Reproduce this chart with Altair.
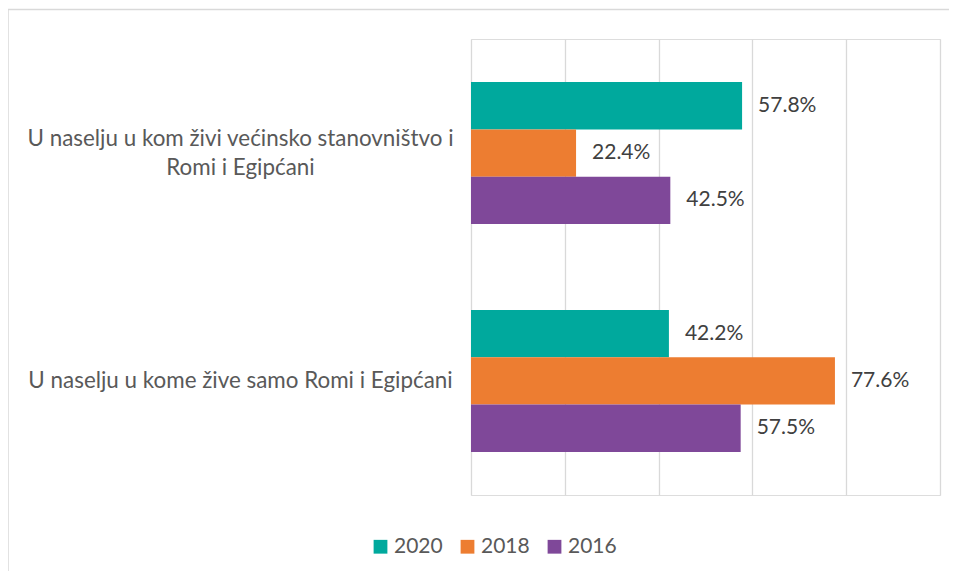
import altair as alt
import pandas as pd

categories = [
    "U naselju u kom živi većinsko stanovništvo i|Romi i Egipćani",
    "U naselju u kome žive samo Romi i Egipćani",
]
years = ["2020", "2018", "2016"]
v2020 = [57.8, 42.2]
v2018 = [22.4, 77.6]
v2016 = [42.5, 57.5]
colors = ["#00A99D", "#ED7D31", "#7F4899"]

rows = []
for i, c in enumerate(categories):
    for y, vals in zip(years, [v2020, v2018, v2016]):
        rows.append({"category": c, "year": y, "value": vals[i],
                     "label": f"{vals[i]:.1f}%"})
df = pd.DataFrame(rows)

FONT = "Lato"

base = alt.Chart(df).encode(
    y=alt.Y("category:N", sort=categories, title=None,
            scale=alt.Scale(paddingInner=0.377, paddingOuter=0.189),
            axis=alt.Axis(labelExpr="split(datum.label, '|')", labelAlign="center",
                          labelPadding=231, labelFontSize=22.4, labelFont=FONT,
                          labelColor="#595959", labelLineHeight=29, labelLimit=600,
                          labelOffset={"condition": {"test": "indexof(datum.value, '|') >= 0",
                                                     "value": -14},
                                       "value": 0},
                          ticks=False, tickSize=0, domain=False, grid=False)),
    yOffset=alt.YOffset("year:N", sort=years,
                        scale=alt.Scale(paddingInner=0, paddingOuter=0)),
)

bars = base.mark_bar().encode(
    x=alt.X("value:Q", title=None,
            scale=alt.Scale(domain=[0, 100], nice=False),
            axis=alt.Axis(values=[0, 20, 40, 60, 80, 100], labels=False, ticks=False,
                          domain=False, grid=True, gridColor="#D9D9D9", gridWidth=1.3)),
    color=alt.Color("year:N", sort=years,
                    scale=alt.Scale(domain=years, range=colors),
                    legend=alt.Legend(title=None, orient="none", direction="horizontal",
                                      legendX=-101, legendY=497, padding=0,
                                      symbolType="square", symbolSize=190,
                                      symbolStrokeWidth=0, labelFontSize=21,
                                      labelFont=FONT, labelColor="#595959",
                                      labelOffset=3, columnPadding=14)),
)

texts = base.mark_text(align="left", baseline="middle", dx=16, fontSize=21,
                       font=FONT, color="#404040").encode(
    x=alt.X("value:Q"),
    text=alt.Text("label:N"),
)

frame_df = pd.DataFrame({"k": [0]})
frame_top = alt.Chart(frame_df).mark_rule(color="#D9D9D9", strokeWidth=1.5).encode(
    x=alt.value(-463), x2=alt.value(500), y=alt.value(-29.5))
frame_left = alt.Chart(frame_df).mark_rule(color="#D9D9D9", strokeWidth=1.5).encode(
    x=alt.value(-463), y=alt.value(-29.5), y2=alt.value(540))

chart = alt.layer(bars, texts, frame_top, frame_left).properties(
    width=469, height=456,
    autosize=alt.AutoSizeParams(type="none"),
    padding={"left": 463, "top": 31, "right": 9, "bottom": 76},
).configure_view(stroke=None).configure(font=FONT)

chart.save("out.html", embed_options={"renderer": "svg", "actions": False})
